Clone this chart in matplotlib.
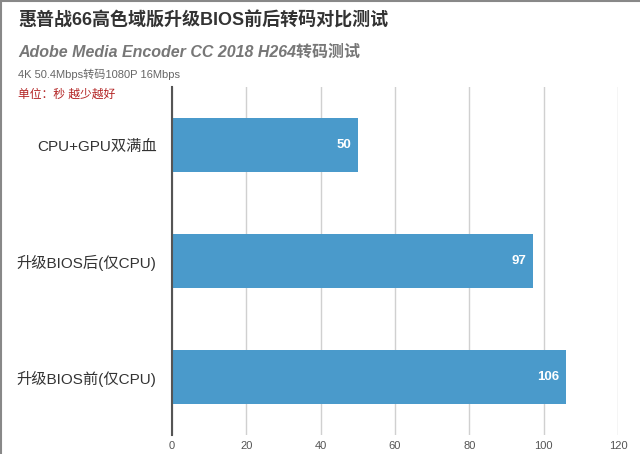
import matplotlib
matplotlib.use("Agg")
import matplotlib.pyplot as plt
from matplotlib.lines import Line2D

plt.rcParams['font.family'] = ['Liberation Sans', 'Noto Sans CJK SC', 'DejaVu Sans']

categories = ["CPU+GPU双满血", "升级BIOS后(仅CPU)", "升级BIOS前(仅CPU)"]
values = [50, 97, 106]
xticks = [0, 20, 40, 60, 80, 100, 120]

title = "惠普战66高色域版升级BIOS前后转码对比测试"
subtitle = "Adobe Media Encoder CC 2018 H264转码测试"
note = "4K 50.4Mbps转码1080P 16Mbps"
unit = "单位：秒 越少越好"

fig = plt.figure(figsize=(6.4, 4.54), dpi=100)
ax = fig.add_axes([172/640, 1-435/454, 446/640, 348/454])

ypos = list(range(len(categories)))
ax.barh(ypos, values, height=0.47, color="#4A9ACB", zorder=3)
ax.set_ylim(len(categories)-0.5, -0.5)
ax.set_xlim(0, 120)
ax.set_xticks(xticks)
ax.set_xticklabels([str(t) for t in xticks], fontsize=8, color="#555555")
ax.set_yticks(ypos)
ax.set_yticklabels(categories, fontsize=11, color="#333333")
ax.tick_params(axis='y', length=0, pad=11)
ax.tick_params(axis='x', length=0, pad=4)
ax.grid(axis='x', color="#d0d0d0", linewidth=1, zorder=0)
for s in ["top", "right", "bottom"]:
    ax.spines[s].set_visible(False)
ax.spines["left"].set_color("#555555")
ax.spines["left"].set_linewidth(1.5)
ax.spines["left"].set_zorder(4)

for y, v in zip(ypos, values):
    ax.annotate(str(v), xy=(v, y), xytext=(-4.5, 0), textcoords="offset points",
                ha="right", va="center", color="white", fontsize=9.5, fontweight="bold", zorder=5)

fig.text(18/640, 1-21/454, title, fontsize=13, fontweight="bold", color="#333333", va="center", ha="left")
fig.text(18/640, 1-52/454, subtitle, fontsize=11.5, fontweight="bold", style="italic", color="#777777", va="center", ha="left")
fig.text(18/640, 1-74/454, note, fontsize=8, color="#666666", va="center", ha="left")
fig.text(18/640, 1-95/454, unit, fontsize=8.5, color="#b22222", va="center", ha="left")

fig.add_artist(Line2D([0.5/640, 0.5/640], [0, 1], transform=fig.transFigure, color="#888888", linewidth=1.5))
fig.add_artist(Line2D([0, 1], [1-0.5/454, 1-0.5/454], transform=fig.transFigure, color="#888888", linewidth=1.5))

fig.savefig("out.png", dpi=100)
